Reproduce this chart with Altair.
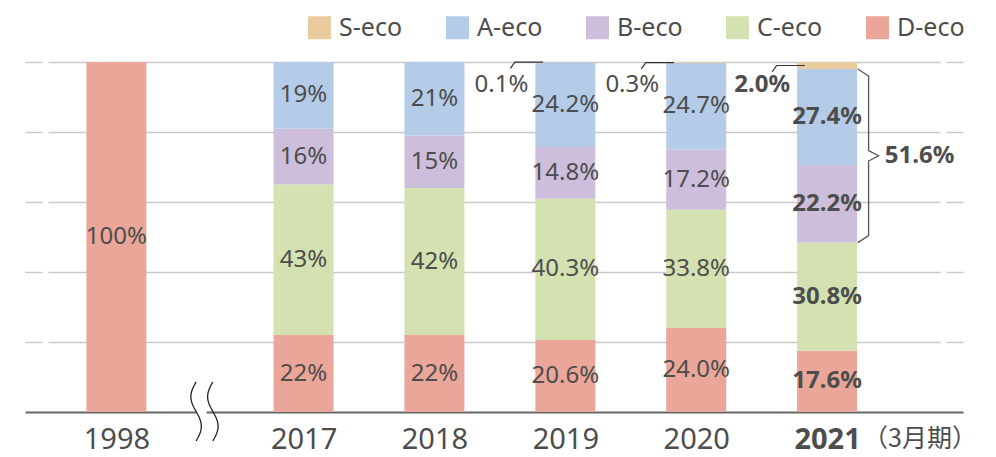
import altair as alt
import numpy as np
import pandas as pd

# Share of each eco-rank by fiscal year (%)
YEARS = ["1998", "2017", "2018", "2019", "2020", "2021"]
S_ECO = [0.0, 0.0, 0.0, 0.1, 0.3, 2.0]
A_ECO = [0.0, 19.0, 21.0, 24.2, 24.7, 27.4]
B_ECO = [0.0, 16.0, 15.0, 14.8, 17.2, 22.2]
C_ECO = [0.0, 43.0, 42.0, 40.3, 33.8, 30.8]
D_ECO = [100.0, 22.0, 22.0, 20.6, 24.0, 17.6]
DECIMALS = [0, 0, 0, 1, 1, 1]

GROUPS = ["S-eco", "A-eco", "B-eco", "C-eco", "D-eco"]
COLORS = ["#EACB9E", "#B4CCE7", "#CDBFDB", "#D4E1B1", "#EAA698"]
PERIOD_NOTE = "（3月期）"
HIGHLIGHT_YEAR = "2021"

FONT = "Noto Sans"
INK = "#4d4d4d"

# x position of each year: 1998 sits before an axis break
BREAK_GAP = 1.43
POS = [0.0] + [BREAK_GAP + k for k in range(len(YEARS) - 1)]
X_DOMAIN = [-0.66, 6.43]

series = {"S-eco": S_ECO, "A-eco": A_ECO, "B-eco": B_ECO, "C-eco": C_ECO, "D-eco": D_ECO}
stack_order = ["D-eco", "C-eco", "B-eco", "A-eco", "S-eco"]  # bottom to top

rows = []
for i, year in enumerate(YEARS):
    base = 0.0
    for g in stack_order:
        v = series[g][i]
        fmt = f"{{:.{DECIMALS[i]}f}}%"
        rows.append(dict(year=year, pos=POS[i], group=g, value=v,
                         bottom=base, top=base + v, mid=base + v / 2,
                         label=fmt.format(v), bold=(year == HIGHLIGHT_YEAR)))
        base += v
df = pd.DataFrame(rows)
df = df[df["value"] > 0]

x_scale = alt.Scale(domain=X_DOMAIN, nice=False, zero=False)
y_scale = alt.Scale(domain=[0, 100], nice=False)

label_expr = (f"datum.value < 0.5 ? '{YEARS[0]}' : "
              f"'' + ({int(YEARS[1])} + round(datum.value - {BREAK_GAP}))")

x_axis = alt.Axis(
    values=POS, labelExpr=label_expr, title=None, ticks=False, tickSize=0,
    labelFontSize=29, labelColor=INK, labelFont=FONT, labelPadding=27,
    labelBaseline="middle", labelFlush=False, labelOverlap=False, grid=False,
    labelFontWeight={"condition": {"test": f"datum.value > {POS[-1] - 0.5}", "value": "bold"},
                     "value": "normal"},
    domainColor="#666666", domainWidth=2, domainDash=[171, 10, 900],
)
y_axis = alt.Axis(
    values=[20, 40, 60, 80, 100], title=None, labels=False, ticks=False,
    domain=False, grid=True, gridColor="#c9c9c9", gridWidth=1.5,
    gridDash=[17, 6, 892, 6, 17],
)

bars = alt.Chart(df).mark_bar(size=60).encode(
    x=alt.X("pos:Q", scale=x_scale, axis=x_axis),
    y=alt.Y("bottom:Q", scale=y_scale, axis=y_axis),
    y2="top:Q",
    color=alt.Color(
        "group:N",
        scale=alt.Scale(domain=GROUPS, range=COLORS),
        legend=alt.Legend(
            title=None, orient="none", direction="horizontal",
            legendX=282, legendY=-47, symbolType="square", symbolSize=529,
            symbolStrokeWidth=0, symbolOpacity=1, labelFontSize=25,
            labelFont=FONT, labelColor=INK, labelOffset=7, columnPadding=42,
        ),
    ),
)

inside = df[df["group"] != "S-eco"]


def seg_labels(data, weight):
    return alt.Chart(data).mark_text(
        fontSize=24, font=FONT, color=INK, fontWeight=weight, baseline="middle"
    ).encode(
        x=alt.X("pos:Q", scale=x_scale),
        y=alt.Y("mid:Q", scale=y_scale),
        text="label:N",
    )


labels_normal = seg_labels(inside[~inside["bold"]], "normal")
labels_bold = seg_labels(inside[inside["bold"]], "bold")

# S-eco shares are written beside the bar top with a short leader
s_rows = df[df["group"] == "S-eco"]


def s_labels(data, weight):
    return alt.Chart(data).mark_text(
        fontSize=24, font=FONT, color=INK, fontWeight=weight,
        align="right", baseline="middle", dx=-37, dy=23,
    ).encode(
        x=alt.X("pos:Q", scale=x_scale),
        y=alt.Y("top:Q", scale=y_scale),
        text="label:N",
    )


s_normal = s_labels(s_rows[~s_rows["bold"]], "normal")
s_bold = s_labels(s_rows[s_rows["bold"]], "bold")

lead_rows = []
for _, r in s_rows.iterrows():
    for k, (dxu, dyv) in enumerate([(-0.42, -1.8), (-0.385, 0.0), (-0.17, 0.0)]):
        lead_rows.append(dict(year=r["year"], k=k, x=r["pos"] + dxu, y=r["mid"] + dyv))
leaders = alt.Chart(pd.DataFrame(lead_rows)).mark_line(
    color="#333333", strokeWidth=1.2
).encode(
    x=alt.X("x:Q", scale=x_scale),
    y=alt.Y("y:Q", scale=y_scale),
    detail="year:N",
    order="k:Q",
)

# brace grouping S/A/B for the last year
last = len(YEARS) - 1
share_sab = round(S_ECO[last] + A_ECO[last] + B_ECO[last], 1)
b_top = 100 - S_ECO[last]
b_bot = 100 - share_sab
b_mid = (b_top + b_bot) / 2
px = POS[last]
brace_pts = [(0.234, b_top), (0.317, b_top - 2), (0.317, b_mid + 1.5), (0.393, b_mid),
             (0.317, b_mid - 1.5), (0.317, b_bot + 2), (0.234, b_bot)]
brace_df = pd.DataFrame([dict(k=k, x=px + a, y=b) for k, (a, b) in enumerate(brace_pts)])
brace = alt.Chart(brace_df).mark_line(color="#555555", strokeWidth=1.3).encode(
    x=alt.X("x:Q", scale=x_scale),
    y=alt.Y("y:Q", scale=y_scale),
    order="k:Q",
)
brace_label = alt.Chart(pd.DataFrame([dict(x=px + 0.44, y=b_mid, t=f"{share_sab:.1f}%")])).mark_text(
    fontSize=24, font=FONT, color=INK, fontWeight="bold", align="left", baseline="middle"
).encode(
    x=alt.X("x:Q", scale=x_scale),
    y=alt.Y("y:Q", scale=y_scale),
    text="t:N",
)

# wavy axis-break marks between 1998 and 2017
s = np.linspace(0, 1, 40)
wave_rows = []
for w, off in enumerate([-0.064, 0.064]):
    for j, sv in enumerate(s):
        wave_rows.append(dict(w=w, j=j, x=0.673 + off - 0.04 * np.sin(2 * np.pi * sv),
                              y=8.6 - 16.9 * sv))
waves = alt.Chart(pd.DataFrame(wave_rows)).mark_line(color="#222222", strokeWidth=1.3).encode(
    x=alt.X("x:Q", scale=x_scale),
    y=alt.Y("y:Q", scale=y_scale),
    detail="w:N",
    order="j:Q",
)

note = alt.Chart(pd.DataFrame([dict(x=POS[-1], y=0, t=PERIOD_NOTE)])).mark_text(
    fontSize=25, font="Noto Sans CJK JP", color=INK, align="left", baseline="middle",
    dx=36, dy=27,
).encode(
    x=alt.X("x:Q", scale=x_scale),
    y=alt.Y("y:Q", scale=y_scale),
    text="t:N",
)

chart = alt.layer(
    bars, labels_normal, labels_bold, s_normal, s_bold, leaders, brace, brace_label,
    waves, note,
).properties(
    width=938, height=350,
    padding={"left": 25, "top": 62, "right": 33, "bottom": 45},
    autosize=alt.AutoSizeParams(type="none"),
    background="white",
).configure_view(stroke=None)

chart.save("out.html", embed_options={"renderer": "svg", "actions": False})
